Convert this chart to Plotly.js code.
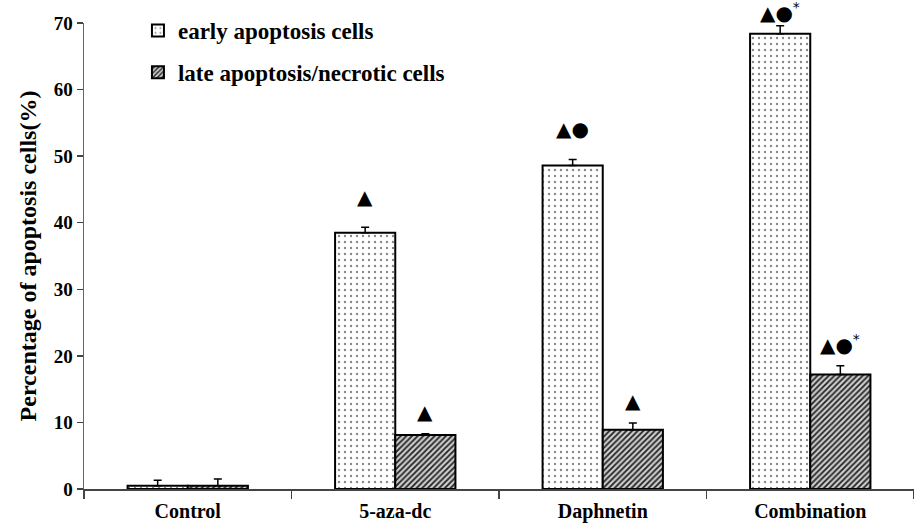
<!DOCTYPE html>
<html><head><meta charset="utf-8">
<script src="https://cdn.plot.ly/plotly-3.0.1.min.js"></script>
<style>html,body{margin:0;padding:0;background:#fff}#chart{width:914px;height:524px}</style>
</head><body><div id="chart"></div>
<script>
const categories = ["Control", "5-aza-dc", "Daphnetin", "Combination"];
const earlyValues = [0.5, 38.5, 48.6, 68.4];
const earlyErrors = [0.8, 0.8, 0.9, 1.2];
const lateValues = [0.5, 8.1, 8.9, 17.2];
const lateErrors = [1.0, 0.2, 1.0, 1.3];
const earlyMarks = ["", "▲", "▲●", "▲●<sup>*</sup>"];
const lateMarks = ["", "▲", "▲", "▲●<sup>*</sup>"];
const seriesNames = ["early apoptosis cells", "late apoptosis/necrotic cells"];

const font = "Liberation Serif, Times New Roman, serif";
const Y_MAX = 70, TOP = 23, PLOT_H = 466;

const traces = [
  {
    type: "bar", name: seriesNames[0], x: categories, y: earlyValues, legendgroup: "a",
    marker: {color: "white", line: {color: "#000", width: 2},
      pattern: {shape: ".", fgcolor: "#888", bgcolor: "white", size: 6, solidity: 0.12}},
    error_y: {type: "data", array: earlyErrors, visible: true, color: "#000", thickness: 1.5, width: 4, symmetric: false, arrayminus: [0,0,0,0]}
  },
  {
    type: "bar", name: seriesNames[1], x: categories, y: lateValues, legendgroup: "b",
    marker: {color: "white", line: {color: "#000", width: 2},
      pattern: {shape: "/", fgcolor: "#222", bgcolor: "#ccc", size: 4, solidity: 0.45}},
    error_y: {type: "data", array: lateErrors, visible: true, color: "#000", thickness: 1.5, width: 4, symmetric: false, arrayminus: [0,0,0,0]}
  }
];

function shiftFor(top) {
  const pxAbove = (Y_MAX - top) / Y_MAX * PLOT_H + TOP;
  return Math.min(30, pxAbove - 12);
}
const annotations = [];
categories.forEach((c, i) => {
  if (earlyMarks[i]) {
    const t = earlyValues[i] + earlyErrors[i];
    annotations.push({x: c, y: t, xref: "x", yref: "y", text: earlyMarks[i], showarrow: false,
      xshift: -30, yshift: shiftFor(t), yanchor: "middle",
      font: {family: "DejaVu Sans", size: 20, color: "#000"}});
  }
  if (lateMarks[i]) {
    const t = lateValues[i] + lateErrors[i];
    annotations.push({x: c, y: t, xref: "x", yref: "y", text: lateMarks[i], showarrow: false,
      xshift: 30, yshift: 22, yanchor: "middle",
      font: {family: "DejaVu Sans", size: 20, color: "#000"}});
  }
});

const layout = {
  width: 914, height: 524,
  margin: {l: 84, r: 0, t: TOP, b: 35},
  paper_bgcolor: "white", plot_bgcolor: "white",
  barmode: "group", bargap: 0.42, bargroupgap: 0,
  font: {family: font, size: 19, color: "#000"},
  showlegend: true,
  legend: {x: 0.065, y: 1.03, xanchor: "left", yanchor: "top", bgcolor: "rgba(0,0,0,0)",
    font: {family: font, size: 23, color: "#000", weight: "bold"}, tracegroupgap: 9,
    itemwidth: 30},
  xaxis: {
    range: [-0.5, 3.5], showline: true, linecolor: "#444", linewidth: 1.5,
    ticks: "outside", tickson: "boundaries", ticklen: 8, tickcolor: "#444", tickwidth: 1.5,
    ticklabelstandoff: 3,
    tickfont: {family: font, size: 20, weight: "bold"}, showgrid: false, zeroline: false
  },
  yaxis: {
    range: [0, Y_MAX], dtick: 10, showline: true, linecolor: "#666", linewidth: 1.5,
    ticks: "outside", ticklen: 6, tickcolor: "#444", tickwidth: 1.5,
    tickfont: {family: font, size: 19, weight: "bold"}, showgrid: false, zeroline: false,
    title: {text: "Percentage of apoptosis cells(%)", font: {family: font, size: 24, weight: "bold"}, standoff: 10}
  },
  annotations: annotations
};

Plotly.newPlot("chart", traces, layout, {displayModeBar: false, staticPlot: true});
</script></body></html>
